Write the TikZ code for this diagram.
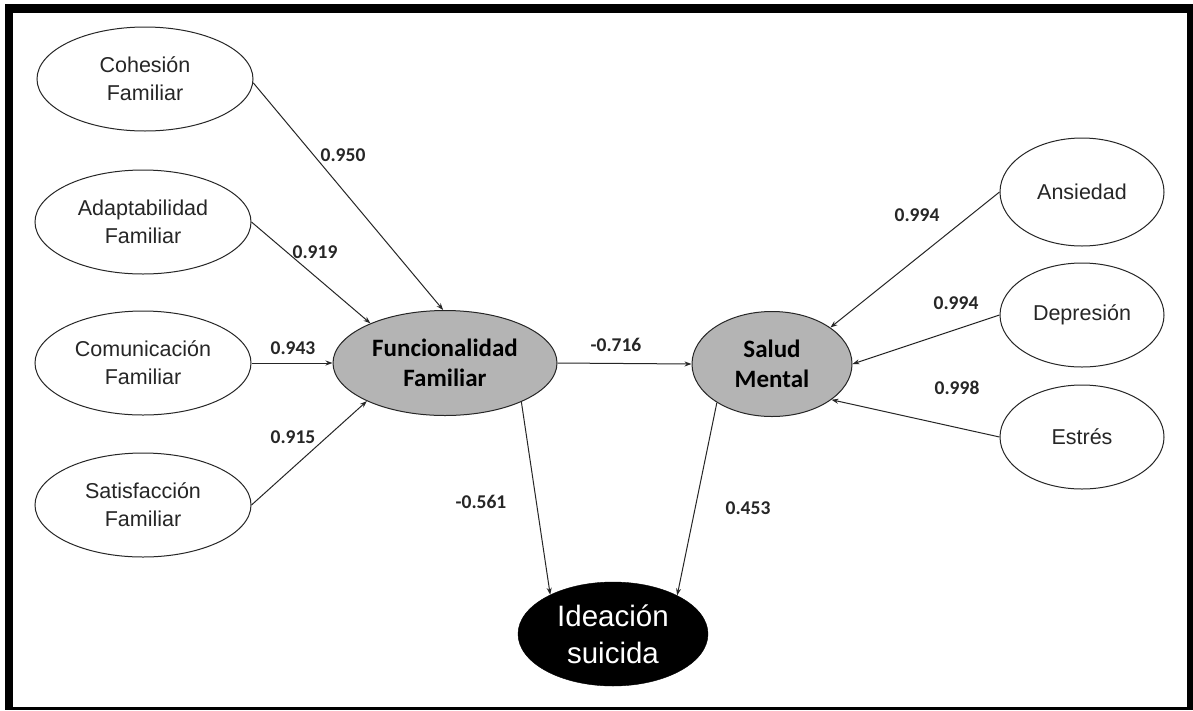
\documentclass[tikz,border=0pt]{standalone}
\usepackage{fontspec}
\setmainfont{Liberation Sans}
\newfontfamily\calib{Carlito}
\usetikzlibrary{shapes.geometric,arrows.meta}
\definecolor{latgray}{RGB}{180,180,180}
\tikzset{
  obs/.style={ellipse, draw=black!85, line width=1pt, fill=white, inner sep=0pt,
    minimum width=216pt, minimum height=104pt, align=center,
    font=\fontsize{21.5}{28}\selectfont, text=black!85},
  lat/.style={ellipse, draw=black!85, line width=1pt, fill=latgray, inner sep=0pt,
    minimum height=105pt, align=center, font=\calib\bfseries\fontsize{25}{30}\selectfont},
  dv/.style={ellipse, draw=black, fill=black, inner sep=0pt, minimum width=190pt,
    minimum height=104pt, align=center, text=white, font=\fontsize{29.5}{37}\selectfont},
  path/.style={draw=black!85, line width=1pt, -{Stealth[length=7pt,width=5pt]}},
  coef/.style={font=\calib\bfseries\fontsize{19.5}{22}\selectfont, inner sep=0pt, text=black!85}
}
\begin{document}
\begin{tikzpicture}[x=1pt,y=-1pt]
\useasboundingbox (0,0) rectangle (1193,710);
\fill[black] (5,4) rectangle (1193,710);
\fill[white] (13,13) rectangle (1187,707);

% indicators left
\node[obs] (coh) at (145,79) {Cohesión\\Familiar};
\node[obs] (ada) at (143,222) {Adaptabilidad\\Familiar};
\node[obs] (com) at (143,363) {Comunicación\\Familiar};
\node[obs] (sat) at (143,505) {Satisfacción\\Familiar};

% latent
\node[lat, minimum width=224pt] (fun) at (445,363) {Funcionalidad\\Familiar};
\node[lat, minimum width=160pt] (sal) at (772,364) {Salud\\Mental};
\node[dv] (ide) at (613,634) {Ideación\\suicida};

% indicators right
\node[obs, minimum width=164pt, minimum height=108pt] (ans) at (1082,192) {Ansiedad};
\node[obs, minimum width=164pt] (dep) at (1082,315) {Depresión};
\node[obs, minimum width=164pt] (est) at (1082,437) {Estrés};

% paths
\draw[path] (coh.-2) -- (fun.92);
\draw[path] (ada.east) -- (fun.152);
\draw[path] (com.east) -- (fun.west);
\draw[path] (sat.east) -- (fun.206);
\draw[path] (fun.east) -- (sal.west);
\draw[path] (fun.333) -- (ide.148);
\draw[path] (sal.215) -- (ide.31);
\draw[path] (ans.west) -- (sal.32);
\draw[path] (dep.west) -- (sal.east);
\draw[path] (est.west) -- (sal.329);

% coefficients
\node[coef] (c1) at (343,155) {0.950};
\node[coef] (c2) at (315,252) {0.919};
\node[coef] (c3) at (293,348) {0.943};
\node[coef] (c4) at (293,437) {0.915};
\node[coef] (c5) at (616,345) {-0.716};
\node[coef] (c6) at (481,502) {-0.561};
\node[coef] (c7) at (748,508) {0.453};
\node[coef] (c8) at (917,215) {0.994};
\node[coef] (c9) at (956,303) {0.994};
\node[coef] (c10) at (957,388) {0.998};
\end{tikzpicture}
\end{document}
